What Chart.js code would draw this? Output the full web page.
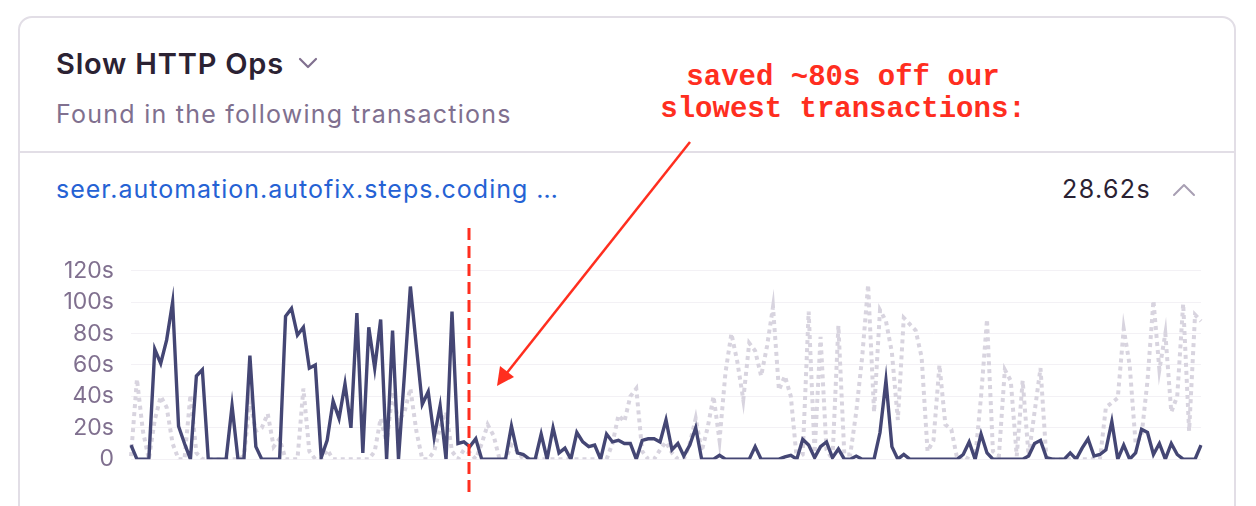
<!DOCTYPE html>
<html>
<head>
<meta charset="utf-8">
<script src="https://cdn.jsdelivr.net/npm/chart.js@4/dist/chart.umd.min.js"></script>
<style>
  html, body { margin: 0; padding: 0; background: #fff; }
  body { width: 1256px; height: 506px; position: relative; overflow: hidden; font-family: Inter, "Noto Sans", sans-serif; }
  .card { position: absolute; left: 18px; top: 16px; width: 1218px; height: 560px; border: 2px solid #E2DEE6; border-radius: 14px; box-sizing: border-box; }
  .divider { position: absolute; left: 18px; top: 151px; width: 1218px; height: 2px; background: #E2DEE6; }
  .t { position: absolute; white-space: nowrap; }
  #title { left: 56px; top: 44px; font-size: 29px; font-weight: 600; color: #2B2233; line-height: 40px; letter-spacing: 0.8px; }
  #sub { left: 56px; top: 96px; font-size: 25px; color: #80708F; line-height: 36px; letter-spacing: 1.25px; }
  #link { left: 56px; top: 171px; font-size: 25px; color: #2562D4; line-height: 36px; letter-spacing: 1px; }
  #val { left: 1062px; top: 171px; font-size: 25px; color: #2B2233; line-height: 36px; letter-spacing: 1.4px; }
  .note { position: absolute; font-family: "Liberation Mono", "Courier New", monospace; font-weight: bold; font-size: 29px; color: #FF2E1F; white-space: nowrap; line-height: 32px; text-align: center; width: 600px; left: 543px; }
  #chartWrap { position: absolute; left: 0; top: 240px; width: 1256px; height: 250px; }
  svg.ov { position: absolute; left: 0; top: 0; pointer-events: none; }
</style>
</head>
<body>
<div class="card"></div>
<div class="divider"></div>
<div class="t" id="title">Slow HTTP Ops</div>
<div class="t" id="sub">Found in the following transactions</div>
<div class="t" id="link">seer.automation.autofix.steps.coding …</div>
<div class="t" id="val">28.62s</div>
<div class="note" style="top:62px">saved ~80s off our</div>
<div class="note" style="top:94px">slowest transactions:</div>
<div id="chartWrap"><canvas id="c" width="1256" height="250"></canvas></div>
<svg class="ov" width="1256" height="506">
  <polyline points="300,59 308,67 316,59" fill="none" stroke="#80708F" stroke-width="2.2" stroke-linecap="round" stroke-linejoin="round"/>
  <polyline points="1174,195 1184,185 1194,195" fill="none" stroke="#A89FB3" stroke-width="2" stroke-linecap="round" stroke-linejoin="round"/>
  <line x1="469" y1="228" x2="469" y2="496" stroke="#FF2E1F" stroke-width="3" stroke-dasharray="12,6"/>
  <line x1="690" y1="142" x2="506" y2="374" stroke="#FF2E1F" stroke-width="2.5"/>
  <polygon points="497,386 500,366 514,377" fill="#FF2E1F"/>
</svg>
<script>
const yTickLabels = ["0", "20s", "40s", "60s", "80s", "100s", "120s"];
const categories = Array.from({length: 181}, (_, i) => "t" + i);
const currentSeconds = [
  9,0,0,0,70,61,76,100,21,10,
  0,53,57,0,0,0,0,34,0,0,
  66,8,0,0,0,0,91,96,79,84,
  58,60,1,12,37,26,48,20,93,4,
  84,58,89,0,82,0,54,110,72,35,
  43,14,34,0,94,10,11,8,13,0,
  0,0,0,0,21,4,3,0,0,16,
  0,20,4,7,0,17,11,8,9,0,
  16,11,12,10,10,0,12,13,13,11,
  25,6,10,2,9,20,0,0,0,2.5,
  0,0,0,0,0,8,0,0,0,0,
  1.5,2.5,0,12.6,9,1,8,11,1,6.5,
  0,0,2,0,0,0,17,50,8,0,
  3,0,0,0,0,0,0,0,0,0,
  3,11,0,16,4,0,0,0,0,0,
  0,2,10,12,1,0,0,0,4,0,
  7,13,2,3,6,24,0,9,0,4,
  19,17,3,10,0,10,3,0,0,0,9
];
const previousSeconds = [
  2,51,18,0,25,40,33,10,0,0,
  41,4,0,0,0,0,0,0,0,2,
  37,18,20,29,8,13,0,0,0,45,
  5,0,0,6,0,0,0,0,0,0,
  0,5,26,10,43,24,30,45,18,0,
  0,5,20,30,5,0,6,4,0,10,
  22,15,0,0,9,5,0,0,0,0,
  0,0,0,0,0,0,0,0,0,0,
  0,10,28,24,40,45,5,0,0,6,
  11,4,0,0,10,26,5,20,40,12,
  55,80,62,38,74,69,53,72,97,44,
  53,40,0,3,94,4,78,6,0,85,
  3,3,30,65,111,30,95,88,68,25,
  90,86,82,65,5,12,60,22,19,0,
  2,0,0,40,89,5,2,57,50,2,
  50,2,30,58,0,0,0,0,0,0,
  0,0,0,0,33,36,39,83,60,10,
  15,50,101,57,80,30,40,99,18,92,88
];

new Chart(document.getElementById('c'), {
  type: 'line',
  data: {
    labels: categories,
    datasets: [
      { data: currentSeconds, borderColor: '#444674', borderWidth: 3.4, pointRadius: 0, tension: 0, fill: false },
      { data: previousSeconds, borderColor: '#D8D4DF', borderWidth: 4, borderDash: [4, 4], pointRadius: 0, tension: 0, fill: false }
    ]
  },
  options: {
    responsive: false,
    animation: false,
    events: [],
    layout: { padding: { left: 0, right: 55, top: 24, bottom: 30 } },
    plugins: { legend: { display: false }, tooltip: { enabled: false } },
    scales: {
      x: { display: false, offset: false },
      y: {
        min: 0, max: 120,
        afterFit: (s) => { s.width = 131; },
        border: { display: false },
        grid: { color: '#F3F1F5', lineWidth: 1, drawTicks: false },
        ticks: {
          stepSize: 20, padding: 17, color: '#80708F',
          font: { family: 'Inter', size: 23 },
          callback: (v) => yTickLabels[v / 20]
        }
      }
    }
  }
});
</script>
</body>
</html>
